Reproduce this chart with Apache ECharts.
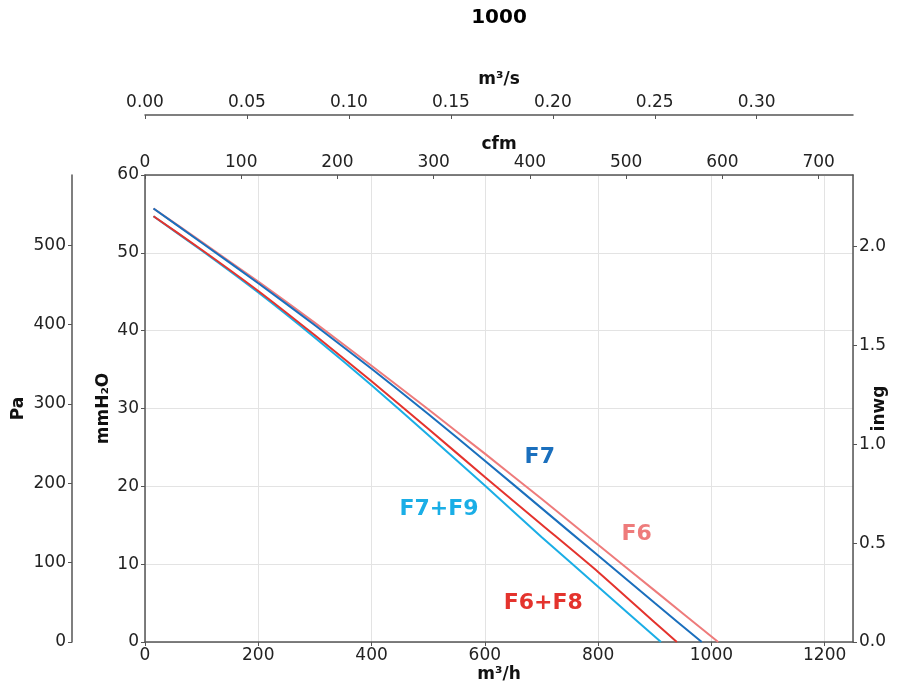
<!DOCTYPE html>
<html>
<head>
<meta charset="utf-8">
<script src="https://cdn.jsdelivr.net/npm/echarts@6/dist/echarts.min.js"></script>
<style>
  html, body { margin: 0; padding: 0; background: #fff; }
  #chart { width: 910px; height: 688px; }
</style>
</head>
<body>
<div id="chart"></div>
<script>
// fan curves: flow in m3/h, pressure in mmH2O
const f6Flow = [15, 100, 200, 300, 400, 500, 600, 700, 800, 900, 1012];
const f6Press = [55.7, 51.4, 46.3, 41.0, 35.5, 29.9, 24.2, 18.4, 12.5, 6.6, 0];
const f7Flow = [15, 100, 200, 300, 400, 500, 600, 700, 800, 900, 983];
const f7Press = [55.7, 51.3, 46.1, 40.7, 35.1, 29.3, 23.3, 17.2, 11.1, 5.0, 0];
const f6f8Flow = [15, 100, 200, 300, 400, 500, 600, 700, 800, 900, 939];
const f6f8Press = [54.7, 50.4, 45.1, 39.4, 33.5, 27.4, 21.2, 15.1, 9.0, 2.5, 0];
const f7f9Flow = [15, 100, 200, 300, 400, 500, 600, 700, 800, 911];
const f7f9Press = [54.7, 50.3, 44.9, 39.1, 33.0, 26.6, 20.1, 13.5, 7.1, 0];

// curve names and where their labels sit (m3/h, mmH2O)
const labelNames = ['F7', 'F7+F9', 'F6', 'F6+F8'];
const labelFlow = [697, 519, 868, 703];
const labelPress = [23.7, 17.0, 13.8, 5.0];
const labelColors = ['#1a6fbd', '#1aaee6', '#ee7b7b', '#e4332d'];

const titleText = '1000';
const flowMax = 1250;      // m3/h
const pressMax = 60;       // mmH2O

const pair = (xs, ys) => xs.map((x, i) => [x, ys[i]]);

const axisColor = '#555';
const labelColor = '#222';
const font = 'DejaVu Sans';

function baseAxis(extra) {
  return Object.assign({
    type: 'value',
    nameLocation: 'middle',
    nameMoveOverlap: false,
    nameTextStyle: { fontFamily: font, fontWeight: 'bold', fontSize: 17, color: '#111' },
    axisLine: { show: true, onZero: false, lineStyle: { color: axisColor, width: 1.5 } },
    axisTick: { show: true, length: 4, lineStyle: { color: axisColor } },
    axisLabel: { fontFamily: font, fontSize: 17, color: labelColor, margin: 6, formatter: v => String(v) },
    splitLine: { show: false }
  }, extra);
}

function lbl(extra) {
  return Object.assign({ fontFamily: font, fontSize: 17, color: labelColor, margin: 6,
                         showMaxLabel: false, formatter: v => String(v) }, extra);
}

let myChart = echarts.init(document.getElementById('chart'));

myChart.setOption({
  animation: false,
  backgroundColor: '#fff',
  graphic: [{
    type: 'text', x: 499, y: 18,
    style: { text: titleText, fontFamily: font, fontWeight: 'bold', fontSize: 20, fill: '#000',
             textAlign: 'center', textVerticalAlign: 'middle' }
  }],
  grid: { left: 145, right: 57, top: 175, bottom: 46, outerBoundsMode: 'none', containLabel: false },
  xAxis: [
    baseAxis({
      name: 'm³/h', position: 'bottom', min: 0, max: flowMax, interval: 200, nameGap: 24,
      axisLabel: lbl({ margin: 5 }),
      splitLine: { show: true, lineStyle: { color: '#e3e3e3', width: 1 } }
    }),
    baseAxis({
      name: 'cfm', position: 'top', min: 0, max: flowMax * 0.588578, interval: 100, nameGap: 22,
      axisTick: { show: true, inside: true, length: 4, lineStyle: { color: axisColor } },
      axisLabel: lbl({ margin: 4 })
    }),
    baseAxis({
      name: 'm³/s', position: 'top', offset: 60, min: 0, max: flowMax / 3600, interval: 0.05, nameGap: 27,
      axisTick: { show: true, inside: true, length: 4, lineStyle: { color: axisColor } },
      axisLabel: lbl({ margin: 4, formatter: v => v.toFixed(2) })
    })
  ],
  yAxis: [
    baseAxis({
      name: 'mmH₂O', position: 'left', min: 0, max: pressMax, interval: 10, nameGap: 33, nameRotate: 90,
      splitLine: { show: true, lineStyle: { color: '#e3e3e3', width: 1 } }
    }),
    baseAxis({
      name: 'Pa', position: 'left', offset: 73, min: 0, max: pressMax * 9.80665, interval: 100,
      nameGap: 45, nameRotate: 90,
      axisLabel: lbl({})
    }),
    baseAxis({
      name: 'inwg', position: 'right', min: 0, max: pressMax / 25.4, interval: 0.5, nameGap: 18, nameRotate: 90,
      axisLabel: lbl({ formatter: v => v.toFixed(1) })
    })
  ],
  series: [
    { name: 'F6', type: 'line', data: pair(f6Flow, f6Press), showSymbol: false, smooth: 0.2,
      lineStyle: { color: '#ee7b7b', width: 2 }, z: 3 },
    { name: 'F7', type: 'line', data: pair(f7Flow, f7Press), showSymbol: false, smooth: 0.2,
      lineStyle: { color: '#1a6fbd', width: 2 }, z: 4 },
    { name: 'F6+F8', type: 'line', data: pair(f6f8Flow, f6f8Press), showSymbol: false, smooth: 0.2,
      lineStyle: { color: '#e4332d', width: 2 }, z: 4 },
    { name: 'F7+F9', type: 'line', data: pair(f7f9Flow, f7f9Press), showSymbol: false, smooth: 0.2,
      lineStyle: { color: '#1aaee6', width: 2 }, z: 3 },
    {
      type: 'scatter', symbolSize: 0, z: 5, itemStyle: { opacity: 1 },
      data: labelNames.map((n, i) => ({
        value: [labelFlow[i], labelPress[i]],
        label: { show: true, position: 'inside', formatter: n, color: labelColors[i],
                 fontFamily: font, fontWeight: 'bold', fontSize: 22 }
      }))
    }
  ]
});
</script>
</body>
</html>
